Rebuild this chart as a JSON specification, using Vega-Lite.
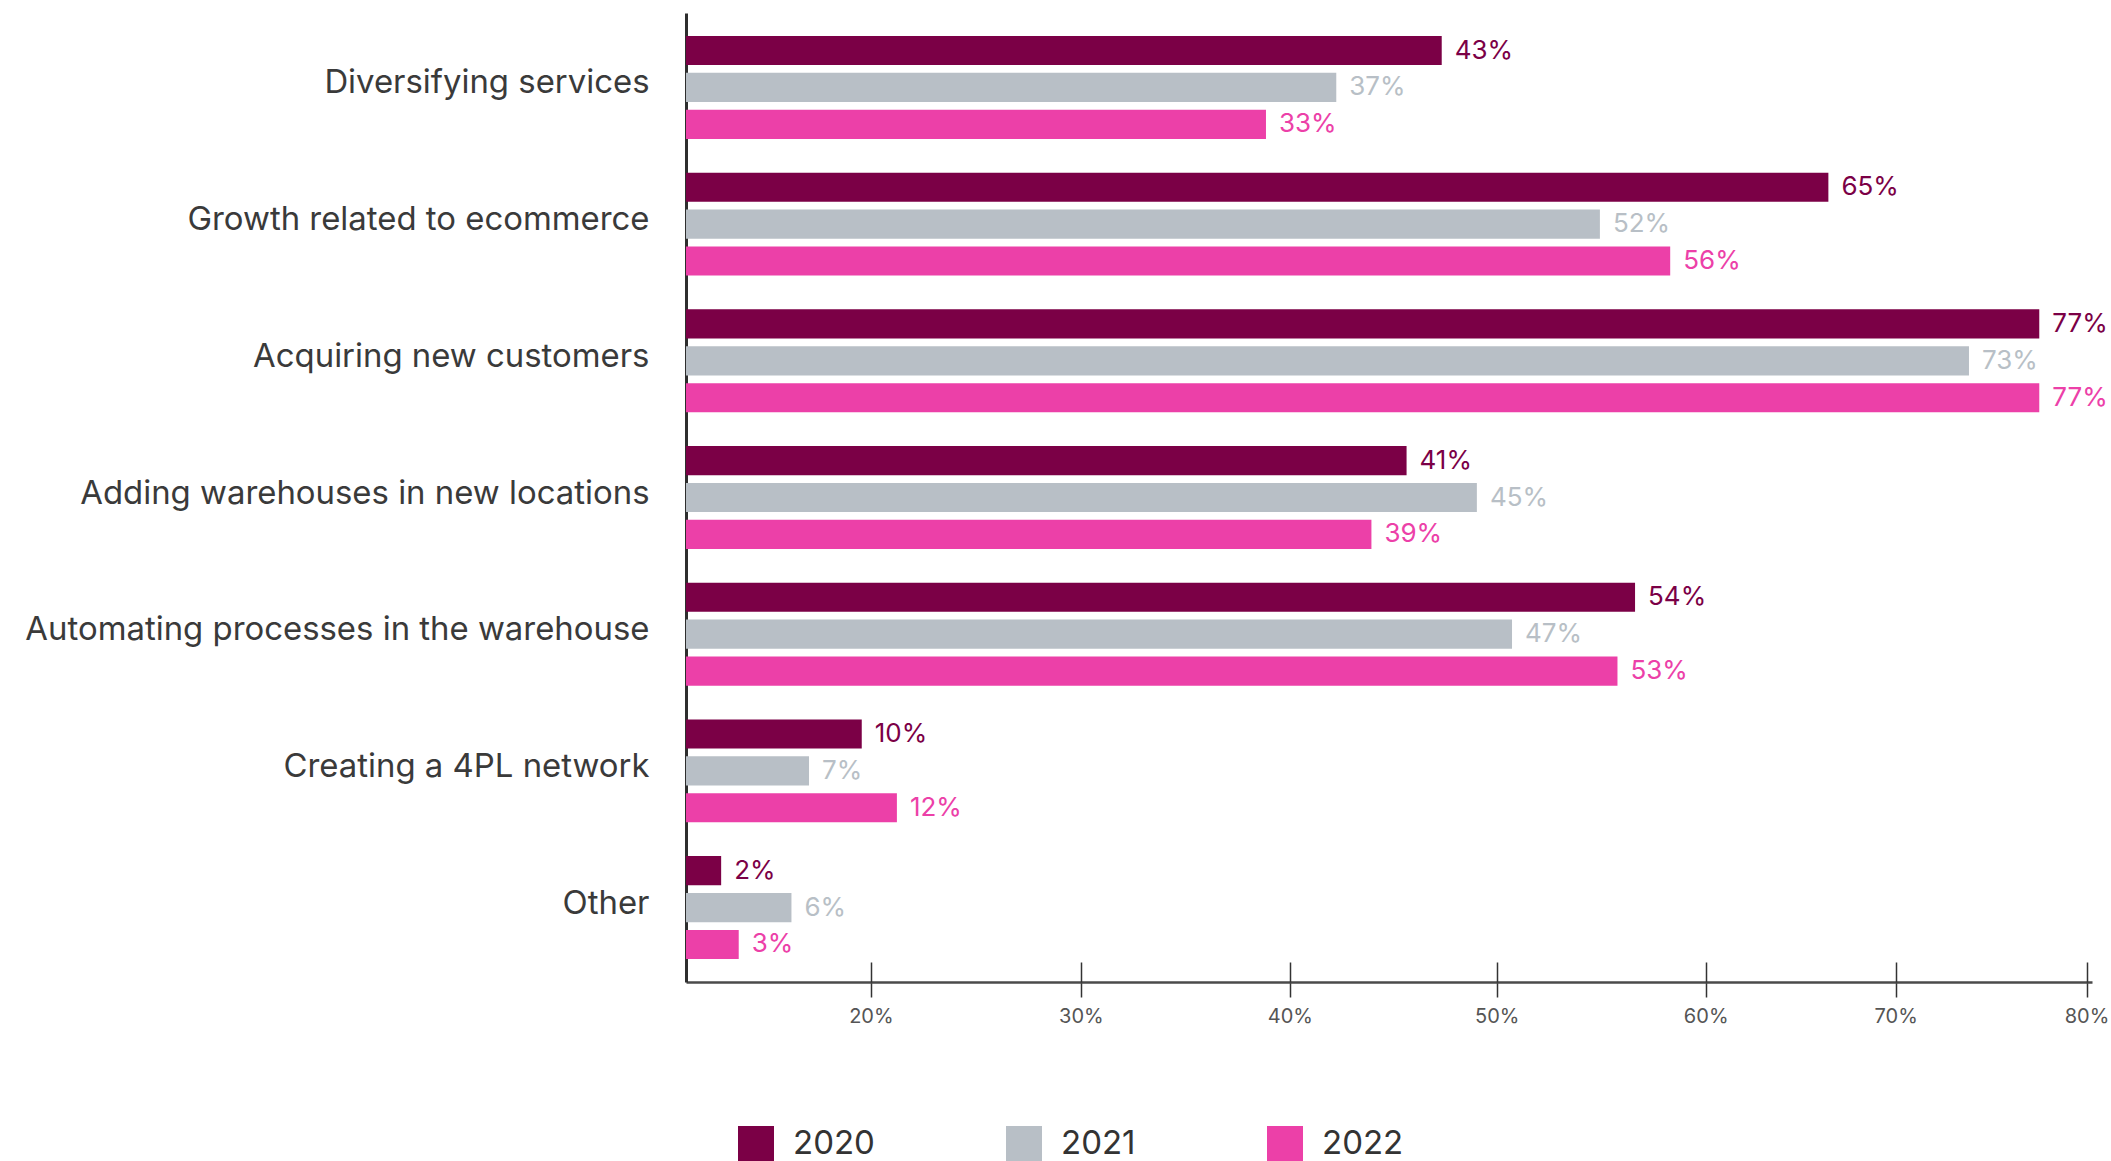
{
  "$schema": "https://vega.github.io/schema/vega-lite/v6.json",
  "autosize": {"type": "none"},
  "width": 1406,
  "height": 969,
  "padding": {"left": 686, "top": 13, "right": 19, "bottom": 179},
  "background": "white",
  "config": {
    "view": {"stroke": null},
    "font": "Inter"
  },
  "data": {
    "values": [
      {"reason": "Diversifying services", "year": "2020", "value": 43},
      {"reason": "Diversifying services", "year": "2021", "value": 37},
      {"reason": "Diversifying services", "year": "2022", "value": 33},
      {"reason": "Growth related to ecommerce", "year": "2020", "value": 65},
      {"reason": "Growth related to ecommerce", "year": "2021", "value": 52},
      {"reason": "Growth related to ecommerce", "year": "2022", "value": 56},
      {"reason": "Acquiring new customers", "year": "2020", "value": 77},
      {"reason": "Acquiring new customers", "year": "2021", "value": 73},
      {"reason": "Acquiring new customers", "year": "2022", "value": 77},
      {"reason": "Adding warehouses in new locations", "year": "2020", "value": 41},
      {"reason": "Adding warehouses in new locations", "year": "2021", "value": 45},
      {"reason": "Adding warehouses in new locations", "year": "2022", "value": 39},
      {"reason": "Automating processes in the warehouse", "year": "2020", "value": 54},
      {"reason": "Automating processes in the warehouse", "year": "2021", "value": 47},
      {"reason": "Automating processes in the warehouse", "year": "2022", "value": 53},
      {"reason": "Creating a 4PL network", "year": "2020", "value": 10},
      {"reason": "Creating a 4PL network", "year": "2021", "value": 7},
      {"reason": "Creating a 4PL network", "year": "2022", "value": 12},
      {"reason": "Other", "year": "2020", "value": 2},
      {"reason": "Other", "year": "2021", "value": 6},
      {"reason": "Other", "year": "2022", "value": 3}
    ]
  },
  "encoding": {
    "y": {
      "field": "reason",
      "type": "nominal",
      "sort": null,
      "scale": {"paddingInner": 0.247, "paddingOuter": 0.168},
      "axis": {
        "title": null,
        "ticks": false,
        "labelPadding": 37,
        "labelOffset": -4,
        "labelFontSize": 32.9,
        "labelColor": "#3a3a3a",
        "labelFont": "Inter",
        "labelLimit": 700,
        "domainColor": "#2e2e2e",
        "domainWidth": 3
      }
    },
    "yOffset": {
      "field": "year",
      "type": "nominal",
      "scale": {"paddingInner": 0.21, "paddingOuter": 0}
    },
    "color": {
      "field": "year",
      "type": "nominal",
      "scale": {"domain": ["2020", "2021", "2022"], "range": ["#7b0046", "#b8bfc6", "#ec40a8"]},
      "legend": {
        "title": null,
        "orient": "none",
        "legendX": 52,
        "legendY": 1113,
        "direction": "horizontal",
        "symbolType": "square",
        "symbolSize": 1296,
        "symbolStrokeWidth": 0,
        "symbolOpacity": 1,
        "labelFontSize": 33,
        "labelColor": "#333333",
        "labelFont": "Inter",
        "labelOffset": 19,
        "columnPadding": 131
      }
    }
  },
  "layer": [
    {
      "mark": {"type": "bar"},
      "encoding": {
        "x": {
          "field": "value",
          "type": "quantitative",
          "scale": {"domain": [0, 80], "nice": false},
          "axis": {
            "title": null,
            "orient": "bottom",
            "grid": false,
            "values": [10.52, 22.47, 34.36, 46.13, 58.02, 68.83, 79.69],
            "labelExpr": "datum.value < 16 ? '20%' : datum.value < 28 ? '30%' : datum.value < 40 ? '40%' : datum.value < 52 ? '50%' : datum.value < 63 ? '60%' : datum.value < 74 ? '70%' : '80%'",
            "tickSize": 15,
            "tickColor": "#333333",
            "tickWidth": 1.5,
            "domainColor": "#4a4a4a",
            "domainWidth": 2.5,
            "labelFontSize": 20,
            "labelColor": "#555555",
            "labelFont": "Inter",
            "labelPadding": 9,
            "labelFlush": false,
            "labelOverlap": false
          }
        }
      }
    },
    {
      "transform": [{"calculate": "datum.value + '%'", "as": "lbl"}],
      "mark": {"type": "text", "align": "left", "baseline": "middle", "dx": 13, "fontSize": 26, "font": "Inter"},
      "encoding": {
        "x": {
          "field": "value",
          "type": "quantitative",
          "axis": {
            "title": null,
            "orient": "bottom",
            "grid": false,
            "domain": false,
            "labels": false,
            "values": [10.52, 22.47, 34.36, 46.13, 58.02, 68.83, 79.69],
            "tickSize": -20,
            "tickColor": "#333333",
            "tickWidth": 1.5
          }
        },
        "text": {"field": "lbl", "type": "nominal"},
        "detail": {"field": "year"}
      }
    }
  ],
  "resolve": {"axis": {"x": "independent"}}
}
